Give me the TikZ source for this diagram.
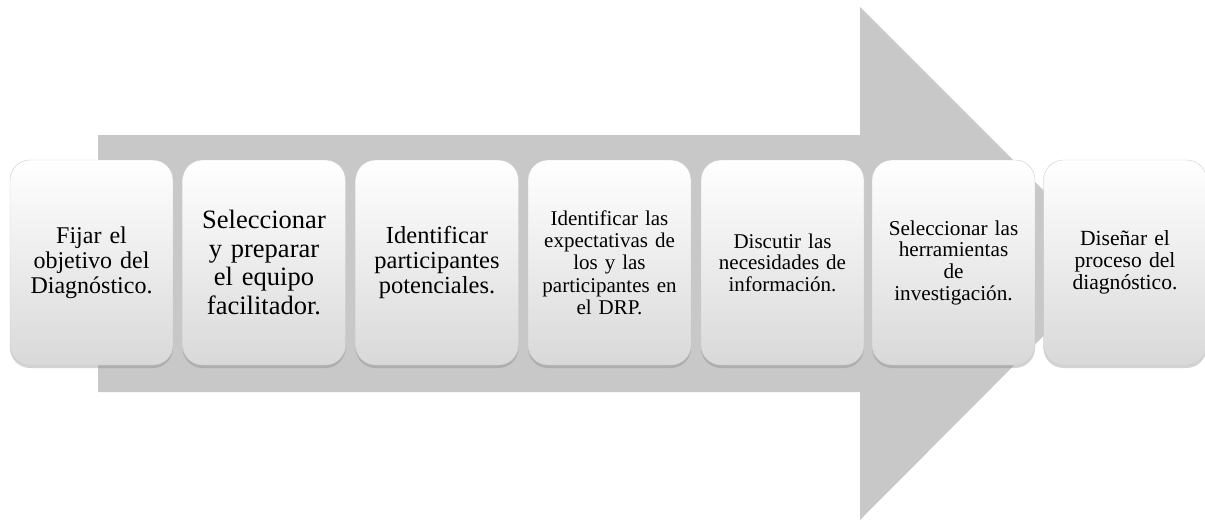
\documentclass[tikz,border=0pt]{standalone}
\usepackage{fontspec}
\setmainfont{Liberation Serif}
\usepackage{xcolor}
\usetikzlibrary{shapes,arrows,positioning,calc,shadows}

\definecolor{flecha}{RGB}{200,200,200}
\tikzset{
  paso/.style={rectangle, rounded corners=20pt, minimum width=163pt, minimum height=205pt,
    text width=158pt, align=center, inner sep=0pt, draw=gray!40, line width=0.4pt,
    top color=white, bottom color=gray!30,
    drop shadow={opacity=0.35, shadow xshift=0pt, shadow yshift=-3pt}}
}

\begin{document}
\begin{tikzpicture}[x=1pt,y=-1pt]
\useasboundingbox (0,0) rectangle (1205,527);
\fill[flecha] (98,135) -- (860,135) -- (860,7) -- (1116,263) -- (860,520) -- (860,392) -- (98,392) -- cycle;
\node[paso, font=\fontsize{24}{25}\selectfont] (p1) at (91.5,262.5) {Fijar el\\ objetivo del\\ Diagnóstico.};
\node[paso, font=\fontsize{26.5}{28.5}\selectfont] (p2) at (264,262.5) {Seleccionar\\ y preparar\\ el equipo\\ facilitador.};
\node[paso, font=\fontsize{24.5}{25}\selectfont] (p3) at (437,262.5) {Identificar\\ participantes\\ potenciales.};
\node[paso, font=\fontsize{21}{22.3}\selectfont] (p4) at (609.5,262.5) {Identificar las\\ expectativas de\\ los y las\\ participantes en\\ el DRP.};
\node[paso, font=\fontsize{21}{21.5}\selectfont] (p5) at (782.5,262.5) {Discutir las\\ necesidades de\\ información.};
\node[paso, font=\fontsize{21.2}{21.7}\selectfont] (p6) at (953.5,262.5) {Seleccionar las\\ herramientas\\ de\\ investigación.};
\node[paso, font=\fontsize{21.6}{21.7}\selectfont] (p7) at (1125,262.5) {Diseñar el\\ proceso del\\ diagnóstico.};
\end{tikzpicture}
\end{document}
